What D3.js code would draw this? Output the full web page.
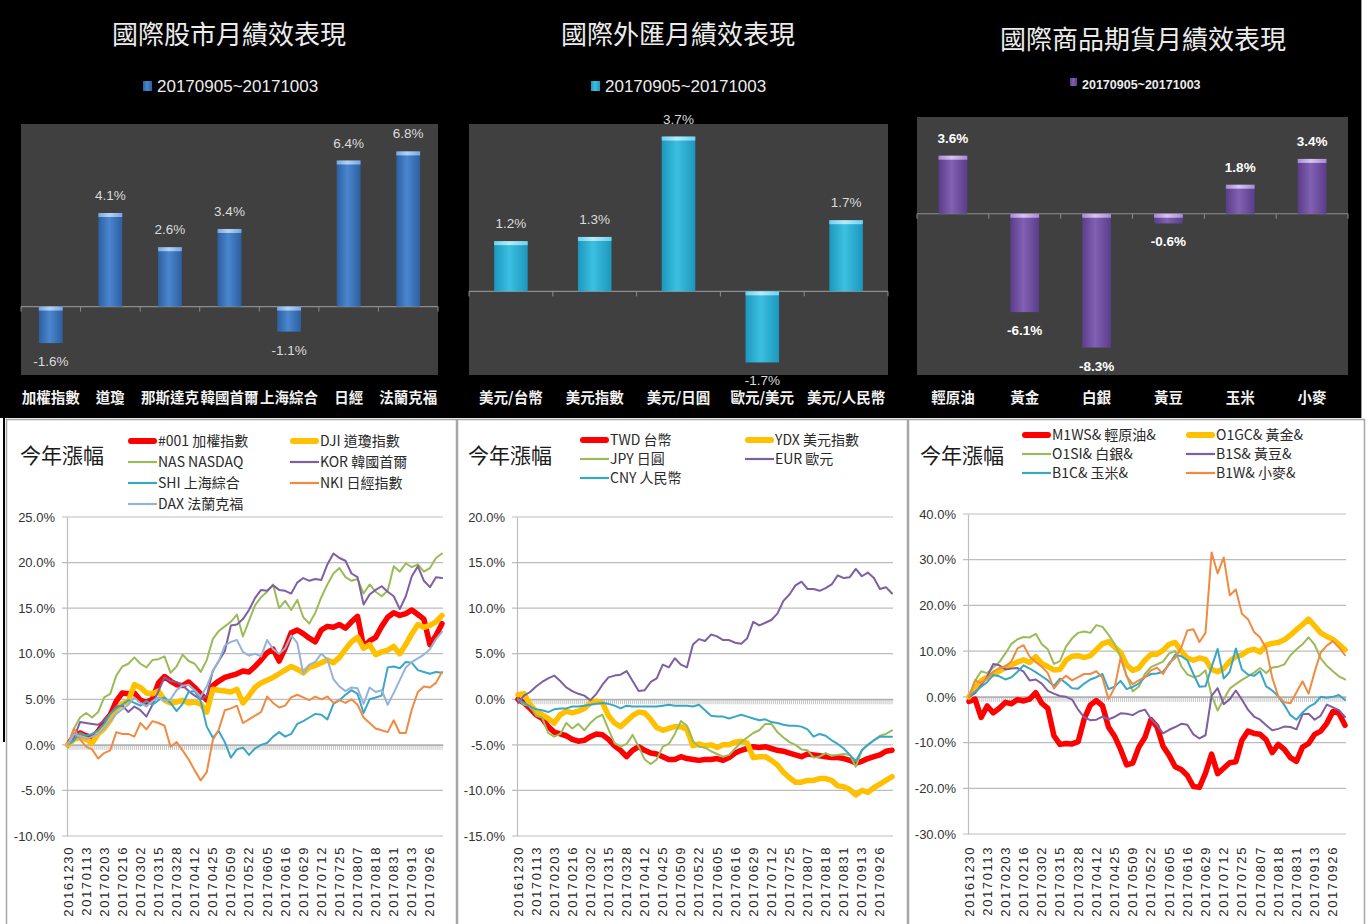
<!DOCTYPE html>
<html><head><meta charset="utf-8">
<script src="https://cdn.jsdelivr.net/npm/d3@7"></script>
<style>
html,body{margin:0;padding:0;background:#fff;}
svg{display:block;}
text{font-family:"Noto Sans CJK TC","Noto Sans",sans-serif;}
.num{font-family:"Liberation Sans Narrow","Liberation Sans",Arial,sans-serif;}
</style></head><body>
<svg id="c" width="1368" height="924"></svg>
<script>
// ---------------- DATA ----------------
const periodLabel = "20170905~20171003";
const stockCats = ["加權指數","道瓊","那斯達克","韓國首爾","上海綜合","日經","法蘭克福"];
const stockVals = [-1.6, 4.1, 2.6, 3.4, -1.1, 6.4, 6.8];
const fxCats = ["美元/台幣","美元指數","美元/日圓","歐元/美元","美元/人民幣"];
const fxVals = [1.2, 1.3, 3.7, -1.7, 1.7];
const cmdCats = ["輕原油","黃金","白銀","黃豆","玉米","小麥"];
const cmdVals = [3.6, -6.1, -8.3, -0.6, 1.8, 3.4];

const dateTicks = ["20161230","20170113","20170203","20170216","20170302","20170315","20170328","20170412","20170425","20170509","20170522","20170605","20170616","20170629","20170712","20170725","20170807","20170818","20170831","20170913","20170926"];
const nDays = 187;      // trading days on the category axis
const sampleStep = 3;   // values below are read every 3rd trading day

const stockTicks = [-10,-5,0,5,10,15,20,25];
const fxTicks = [-15,-10,-5,0,5,10,15,20];
const cmdTicks = [-30,-20,-10,0,10,20,30,40];

const stockNames = ["#001 加權指數","DJI 道瓊指數","NAS NASDAQ","KOR 韓國首爾","SHI 上海綜合","NKI 日經指數","DAX 法蘭克福"];
const taiex = [0.0,1.0,1.3,1.0,0.8,1.5,2.5,3.3,4.8,5.7,5.6,5.7,4.9,4.7,5.0,6.8,7.5,7.0,6.6,6.5,6.9,6.3,5.6,4.9,6.5,7.0,7.4,7.6,7.8,8.1,8.0,8.6,9.3,10.1,10.5,9.2,10.6,12.3,12.6,12.2,11.7,11.3,12.6,13.0,12.9,13.2,12.8,13.5,14.1,10.8,11.4,11.8,13.0,14.0,14.5,14.2,14.4,14.8,14.3,13.8,11.0,12.0,13.3];
const dji = [0.0,0.6,0.8,0.6,0.2,1.2,1.8,2.7,3.9,4.5,4.8,6.6,6.3,5.7,5.6,5.9,4.9,4.6,4.7,4.9,4.6,4.7,4.5,3.6,6.1,6.0,5.9,5.8,6.1,4.6,5.4,6.3,6.8,7.1,7.4,7.8,8.2,8.6,8.3,7.9,8.5,8.7,9.0,9.3,9.0,9.6,10.5,11.3,11.8,10.6,11.0,9.9,10.2,10.4,10.8,10.0,11.0,12.2,13.2,12.9,13.1,13.5,14.2];
const nas = [0.0,1.8,3.0,3.5,3.0,3.6,5.2,5.6,7.6,8.6,8.9,9.6,8.9,8.5,9.3,9.4,9.7,7.9,8.6,9.9,9.2,8.9,8.0,9.3,11.6,12.5,13.0,13.5,14.3,11.9,13.6,15.3,16.2,16.8,17.6,15.0,15.8,14.8,15.9,14.0,13.3,14.5,16.2,17.6,18.8,19.4,18.4,18.0,18.2,16.6,17.6,16.8,16.3,16.9,19.6,19.0,19.9,19.5,19.8,19.0,19.4,20.5,21.0];
const kor = [0.0,0.8,2.5,2.4,2.3,2.2,2.7,3.4,4.2,4.3,3.6,4.2,3.8,3.1,4.4,5.9,7.4,7.0,6.9,6.5,5.9,5.4,5.0,5.4,8.1,9.2,10.3,13.1,13.2,13.8,14.8,16.1,17.0,16.9,17.5,17.0,16.9,16.6,17.8,18.3,18.0,18.2,18.1,19.8,21.0,20.5,20.2,18.8,18.4,15.4,16.5,17.0,17.4,16.8,16.3,14.9,16.3,18.5,19.6,18.0,17.3,18.4,18.3];
const shi = [0.0,0.5,1.3,1.0,1.2,1.6,2.3,3.4,4.0,4.4,4.9,4.6,4.3,4.8,4.4,4.9,5.2,4.6,3.7,4.5,5.8,5.9,4.8,2.0,0.8,1.5,0.3,-1.4,-0.5,-0.3,-1.1,-0.4,0.0,0.2,0.9,1.4,0.9,1.2,2.3,2.6,3.0,3.4,3.3,2.8,4.5,4.9,5.5,6.0,5.6,3.5,5.0,5.2,5.4,8.5,8.6,8.4,9.1,9.0,8.2,8.0,7.8,8.0,7.9];
const nki = [0.0,1.8,0.6,-0.2,-0.5,-1.5,-0.9,-0.6,1.4,1.2,1.2,0.9,2.4,1.7,2.6,2.4,2.1,-0.2,0.3,-0.6,-1.6,-2.8,-3.9,-3.0,0.5,1.7,3.8,4.0,4.3,2.4,2.8,3.2,3.6,5.3,4.6,4.1,4.3,5.2,5.5,5.2,4.9,5.3,5.0,5.3,4.6,4.9,4.6,5.0,4.4,3.0,2.4,1.8,1.6,1.4,2.7,1.3,1.3,3.9,5.8,6.4,6.3,6.8,8.0];
const dax = [0.0,1.2,0.9,0.6,0.9,1.2,1.8,2.6,3.4,3.9,4.4,5.2,4.6,4.2,4.8,5.2,4.8,5.0,6.0,6.5,6.6,6.0,5.3,6.4,8.1,9.2,10.9,11.3,11.5,10.2,9.8,10.0,9.7,11.5,10.5,10.0,10.6,12.0,11.2,7.8,8.8,9.1,10.0,9.4,7.2,6.4,5.9,6.3,6.2,4.5,6.3,5.8,6.0,4.4,5.7,7.1,8.5,9.1,9.5,9.9,10.5,11.6,12.4];

const fxNames = ["TWD 台幣","YDX 美元指數","JPY 日圓","EUR 歐元","CNY 人民幣"];
const twd = [0.0,-0.4,-1.0,-1.7,-2.1,-3.0,-3.6,-3.8,-4.0,-4.4,-4.6,-4.5,-4.1,-3.8,-3.9,-4.4,-5.1,-5.6,-6.3,-5.6,-5.2,-5.6,-5.9,-6.0,-6.3,-6.6,-6.6,-6.3,-6.5,-6.6,-6.7,-6.6,-6.6,-6.5,-6.7,-6.4,-5.9,-5.6,-5.4,-5.2,-5.3,-5.2,-5.4,-5.6,-5.7,-5.9,-6.1,-6.3,-6.0,-6.1,-6.2,-6.3,-6.4,-6.4,-6.5,-6.7,-7.0,-6.8,-6.5,-6.3,-6.1,-5.7,-5.6];
const ydx = [0.5,0.6,-0.6,-1.3,-1.7,-2.1,-2.6,-1.7,-1.3,-1.5,-1.3,-1.0,-0.4,-0.2,-0.4,-1.8,-2.6,-3.0,-2.4,-1.8,-1.4,-1.5,-2.2,-3.1,-3.4,-3.2,-3.0,-3.0,-3.3,-5.1,-4.9,-5.1,-5.0,-5.3,-5.0,-5.0,-4.7,-4.6,-4.8,-6.4,-6.3,-6.3,-6.7,-7.2,-8.0,-8.6,-9.1,-9.1,-8.9,-8.9,-8.7,-8.7,-8.9,-9.5,-9.6,-9.9,-10.5,-10.0,-10.2,-9.7,-9.3,-8.9,-8.5];
const jpy = [0.0,-0.6,-0.7,-1.8,-2.0,-3.7,-4.1,-3.8,-2.6,-3.2,-2.7,-3.4,-2.6,-2.0,-1.7,-3.3,-4.8,-5.2,-4.9,-3.9,-5.2,-6.6,-7.1,-6.6,-5.2,-4.9,-3.8,-2.4,-2.9,-4.6,-5.2,-5.3,-5.7,-6.0,-6.3,-6.1,-5.4,-4.7,-4.2,-3.7,-3.4,-2.7,-2.7,-3.6,-4.2,-4.7,-5.0,-5.5,-5.6,-6.4,-6.3,-5.9,-6.2,-6.1,-6.0,-6.1,-7.4,-5.6,-5.0,-4.5,-4.0,-3.8,-3.4];
const eur = [-0.4,0.4,0.8,1.4,1.9,2.3,2.6,2.0,1.3,0.9,0.6,0.4,-0.1,0.6,1.6,2.4,2.6,2.7,3.1,2.0,0.9,1.0,1.9,2.3,3.8,3.5,4.5,3.8,3.5,6.0,6.6,6.4,7.1,6.9,6.5,6.5,6.2,6.1,6.7,8.5,8.1,8.4,8.7,9.4,10.8,11.5,12.5,12.9,12.1,12.1,11.9,12.2,12.6,13.6,13.3,13.4,14.3,13.5,13.9,13.3,12.1,12.3,11.6];
const cny = [0.0,-0.4,-0.8,-1.1,-1.2,-1.4,-1.1,-1.0,-1.0,-0.8,-0.8,-0.7,-0.6,-0.5,-0.4,-0.5,-0.7,-1.0,-0.7,-0.8,-0.8,-0.8,-0.8,-0.8,-0.7,-0.6,-0.7,-0.7,-0.7,-0.8,-0.6,-1.2,-1.8,-1.9,-1.9,-2.1,-1.9,-1.7,-1.9,-2.1,-2.3,-2.2,-2.5,-2.6,-2.8,-2.9,-2.9,-3.0,-3.3,-4.1,-3.8,-4.0,-4.5,-4.9,-5.4,-6.1,-6.8,-5.6,-5.0,-4.5,-4.1,-4.1,-4.1];

const cmdNames = ["M1WS& 輕原油&","O1GC& 黃金&","O1SI& 白銀&","B1S& 黃豆&","B1C& 玉米&","B1W& 小麥&"];
const crude = [-1.0,-0.5,-4.5,-2.0,-3.5,-2.5,-1.2,-1.5,-0.6,-0.9,-0.5,0.9,-1.4,-2.5,-8.5,-10.4,-10.2,-10.3,-9.8,-4.8,-1.8,-0.8,-1.9,-6.6,-8.6,-11.5,-14.9,-14.5,-11.0,-8.9,-5.0,-6.5,-10.8,-12.8,-15.3,-15.9,-17.2,-19.6,-19.8,-16.7,-12.5,-16.8,-15.6,-14.4,-14.2,-9.5,-7.5,-8.0,-8.2,-9.4,-12.2,-10.4,-11.5,-13.3,-14.1,-11.0,-10.2,-8.2,-7.5,-5.8,-3.2,-3.6,-6.2];
const gold = [0.0,2.0,3.5,4.3,5.0,5.6,6.4,7.0,7.6,8.1,7.5,8.8,7.3,6.6,5.9,6.0,8.0,8.9,9.0,8.6,9.0,10.3,11.6,12.1,10.9,9.7,7.0,5.8,6.3,8.0,9.3,9.3,10.2,11.5,11.9,10.0,8.5,8.0,8.5,8.2,6.0,5.5,6.2,7.8,8.8,9.2,10.1,10.4,9.8,11.3,11.7,11.9,12.5,13.5,14.7,15.8,17.0,15.5,14.0,13.2,12.6,11.5,10.3];
const silver = [0.0,3.5,5.6,5.2,6.4,7.6,9.5,11.6,12.6,13.1,13.0,13.8,11.5,10.4,7.2,7.8,11.0,12.8,14.0,14.3,14.0,15.7,15.3,13.6,11.6,8.7,4.6,1.2,2.2,5.0,6.5,7.1,7.7,9.5,10.0,6.7,4.9,4.3,4.6,5.8,0.3,-3.0,-0.5,1.8,2.8,3.7,4.5,5.3,6.3,5.2,6.4,6.6,7.1,9.1,10.4,11.5,13.0,11.4,8.4,6.8,5.6,4.5,3.8];
const soybean = [0.0,0.8,2.5,4.4,7.2,6.9,6.0,6.2,6.3,5.5,3.6,3.8,2.9,1.3,0.7,0.2,0.0,-0.6,-2.8,-4.5,-5.1,-5.0,-4.3,-4.9,-4.4,-3.6,-3.7,-4.0,-3.2,-2.8,-4.8,-6.2,-8.0,-7.2,-6.6,-5.9,-6.1,-8.2,-9.1,-8.4,0.2,1.9,-1.6,-0.5,1.4,-0.6,-2.8,-4.3,-5.0,-6.2,-7.3,-7.0,-6.5,-6.6,-7.1,-3.8,-3.7,-5.0,-4.1,-1.7,-2.3,-2.9,-4.4];
const corn = [0.0,1.1,2.2,3.2,4.8,4.5,3.8,4.3,5.5,6.9,6.2,5.4,4.5,3.6,2.4,4.0,3.0,1.9,1.8,2.9,3.8,4.3,5.0,1.7,2.2,3.5,1.7,2.2,2.9,4.3,5.0,5.1,5.5,7.1,9.2,8.9,8.0,5.0,2.2,2.3,6.5,10.5,4.0,5.5,10.6,6.0,4.9,4.6,5.6,2.3,1.4,0.1,-1.8,-4.0,-5.0,-3.4,-2.2,-1.5,0.0,-0.2,0.0,0.4,-0.7];
const wheat = [0.0,3.6,3.0,4.1,5.5,6.3,6.6,7.8,10.6,11.3,8.8,7.6,6.6,5.2,1.8,3.5,4.6,3.6,4.3,5.0,5.0,5.6,4.2,-0.5,2.0,8.5,4.5,2.8,3.6,4.3,5.8,6.4,5.0,7.4,8.5,10.8,14.5,14.8,12.0,14.0,31.6,27.0,30.5,22.2,23.5,18.2,17.0,14.2,13.0,10.6,4.2,0.1,-1.2,-1.4,1.0,3.4,0.7,5.5,9.7,11.2,12.2,10.8,9.1];

// ---------------- DRAW ----------------
const svg = d3.select("#c");
const defs = svg.append("defs");
function hGrad(id, edge, mid){
  const g = defs.append("linearGradient").attr("id",id).attr("x1",0).attr("x2",1).attr("y1",0).attr("y2",0);
  g.append("stop").attr("offset","0%").attr("stop-color",edge);
  g.append("stop").attr("offset","45%").attr("stop-color",mid);
  g.append("stop").attr("offset","100%").attr("stop-color",edge);
}
hGrad("gBlue","#2d5f9f","#4a86cf"); hGrad("gBlueTop","#7aa6dc","#b5d2f5");
hGrad("gCyan","#1c97bd","#3cc0e2"); hGrad("gCyanTop","#72d0ea","#b6ecfb");
hGrad("gPurp","#5b3d8a","#8260b3"); hGrad("gPurpTop","#a58bcf","#d6c4f1");

svg.append("rect").attr("x",0).attr("y",0).attr("width",1361).attr("height",418).attr("fill","#000");
svg.append("line").attr("x1",1361.5).attr("x2",1361.5).attr("y1",0).attr("y2",418).attr("stroke","#9a9a9a");

const fmt1 = v => v.toFixed(1);

function barPanel(c){
  const g = svg.append("g");
  g.append("text").attr("x",c.titleX).attr("y",c.titleY).attr("text-anchor","middle")
    .attr("font-size",26).attr("fill","#ececec").text(c.title);
  g.append("rect").attr("x",c.legX).attr("y",c.legY-5).attr("width",c.legSq).attr("height",c.legSq+1).attr("fill","url(#"+c.grad+")");
  g.append("text").attr("class","num").attr("x",c.legX+c.legSq+5).attr("y",c.legY+6)
    .attr("font-size",c.legFont).attr("font-weight",c.bold?"bold":"normal").attr("fill","#ececec").text(periodLabel);
  g.append("rect").attr("x",c.x0).attr("y",c.y0).attr("width",c.x1-c.x0).attr("height",c.y1-c.y0).attr("fill","#404040");
  const x = d3.scaleBand().domain(c.cats).range([c.x0,c.x1]);
  const y = d3.scaleLinear().domain(c.domain).range([c.y1,c.y0]);
  const z = y(0);
  g.append("line").attr("x1",c.x0).attr("x2",c.x1).attr("y1",z).attr("y2",z).attr("stroke","#8c8c8c").attr("stroke-width",1.2);
  c.cats.forEach((k,i)=>{ const bx = x(k); g.append("line").attr("x1",bx).attr("x2",bx).attr("y1",z).attr("y2",z+5).attr("stroke","#8c8c8c"); });
  g.append("line").attr("x1",c.x1).attr("x2",c.x1).attr("y1",z).attr("y2",z+5).attr("stroke","#8c8c8c");
  const bw = x.bandwidth()*0.4;
  c.vals.forEach((v,i)=>{
    const cx = x(c.cats[i]) + x.bandwidth()/2;
    const top = y(Math.max(0,v)), bot = y(Math.min(0,v));
    g.append("rect").attr("x",cx-bw/2).attr("y",top).attr("width",bw).attr("height",bot-top).attr("fill","url(#"+c.grad+")");
    g.append("rect").attr("x",cx-bw/2).attr("y",top).attr("width",bw).attr("height",Math.min(4,bot-top)).attr("fill","url(#"+c.grad+"Top)");
    g.append("text").attr("class","num").attr("x",cx).attr("y",(v>=0? top-18 : bot+18)+5)
      .attr("text-anchor","middle").attr("font-size",13.5).attr("font-weight",c.bold?"bold":"normal")
      .attr("fill",c.bold?"#ffffff":"#dcdcdc").text(fmt1(v)+"%");
    g.append("text").attr("x",cx).attr("y",403).attr("text-anchor","middle").attr("font-size",14.5)
      .attr("font-weight","bold").attr("fill","#f2f2f2").text(c.cats[i]);
  });
}

barPanel({title:"國際股市月績效表現",titleX:229,titleY:44,legX:143,legY:86,legSq:9,legFont:17,bold:false,
  x0:21,x1:438,y0:124,y1:375,domain:[-3,8],cats:stockCats,vals:stockVals,grad:"gBlue"});
barPanel({title:"國際外匯月績效表現",titleX:678,titleY:44,legX:591,legY:86,legSq:9,legFont:17,bold:false,
  x0:469,x1:888,y0:124,y1:375,domain:[-2,4],cats:fxCats,vals:fxVals,grad:"gCyan"});
barPanel({title:"國際商品期貨月績效表現",titleX:1143,titleY:49,legX:1070,legY:83,legSq:7,legFont:12.5,bold:true,
  x0:917,x1:1348,y0:117,y1:375,domain:[-10,6],cats:cmdCats,vals:cmdVals,grad:"gPurp"});

// ---- bottom line charts ----
const sampleIdx = d3.range(0, nDays, sampleStep);
function linePanel(c){
  const g = svg.append("g");
  g.append("rect").attr("x",c.px).attr("y",419.5).attr("width",c.pw).attr("height",520).attr("fill","#fff").attr("stroke","#a6a6a6").attr("stroke-width",1.5);
  g.append("text").attr("x",c.titleX).attr("y",463).attr("font-size",21).attr("fill","#1a1a1a").text("今年漲幅");
  const x = d3.scaleBand().domain(d3.range(nDays)).range([c.x0,c.x1]);
  const xc = i => x(i) + x.bandwidth()/2;
  const y = d3.scaleLinear().domain(c.domain).range([c.yB,c.yT]);
  g.selectAll(".gl").data(c.ticks).enter().append("line")
    .attr("x1",c.x0-5).attr("x2",c.x1).attr("y1",d=>y(d)).attr("y2",d=>y(d))
    .attr("stroke","#bdbdbd").attr("stroke-width",1.2);
  const ya = g.append("g").attr("transform","translate("+c.x0+",0)")
    .call(d3.axisLeft(y).tickValues(c.ticks).tickSize(0).tickSizeOuter(0).tickPadding(12).tickFormat(d=>fmt1(d)+"%"));
  ya.select(".domain").attr("stroke","#bdbdbd").attr("stroke-width",1.2);
  ya.selectAll("text").attr("class","num").attr("font-size",13).attr("fill","#333");
  const xa = g.append("g").attr("transform","translate(0,"+y(0)+")")
    .call(d3.axisBottom(x).tickValues(d3.range(nDays)).tickSize(5).tickSizeOuter(0).tickFormat(""));
  xa.select(".domain").attr("stroke","#a8a8a8");
  xa.selectAll(".tick line").attr("stroke","#b4b4b4").attr("stroke-width",0.8);
  g.selectAll(".dl").data(dateTicks).enter().append("text").attr("class","num")
    .attr("transform",(d,k)=>"translate("+xc(k*9)+",846) rotate(-90)")
    .attr("text-anchor","end").attr("dominant-baseline","central")
    .attr("font-size",13).attr("letter-spacing",1.6).attr("fill","#262626").text(d=>d);
  const line = d3.line().x((d,i)=>xc(sampleIdx[i])).y(d=>y(d));
  c.series.forEach(s=>{
    g.append("path").attr("d",line(s.values)).attr("fill","none").attr("stroke",s.color)
      .attr("stroke-width",s.w).attr("stroke-linejoin","round").attr("stroke-linecap","round");
  });
  c.series.forEach((s,i)=>{
    const col = i%2, row = Math.floor(i/2);
    const lx = c.legCols[col], ly = c.legY + row*c.legStep;
    g.append("line").attr("x1",lx+(s.w>3?3:0)).attr("x2",lx+29-(s.w>3?3:0)).attr("y1",ly).attr("y2",ly)
      .attr("stroke",s.color).attr("stroke-width",s.w>3?6:2.2).attr("stroke-linecap",s.w>3?"round":"butt");
    g.append("text").attr("x",lx+30).attr("y",ly+5).attr("font-size",14).attr("fill","#2a2a2a").text(s.name);
  });
}

const C = {red:"#ff0000",yel:"#ffc000",grn:"#9bbb59",pur:"#7e5fa4",teal:"#3aa6c6",org:"#ef8b42",lb:"#95b3d7"};
const W1 = 5.5, W0 = 2;

linePanel({px:6.5,pw:450,titleX:20,x0:67,x1:443,yT:517,yB:836,domain:[-10,25],ticks:stockTicks,
  legCols:[128,290],legY:441,legStep:21,
  series:[
    {name:stockNames[0],values:taiex,color:C.red,w:W1},
    {name:stockNames[1],values:dji,color:C.yel,w:W1},
    {name:stockNames[2],values:nas,color:C.grn,w:W0},
    {name:stockNames[3],values:kor,color:C.pur,w:W0},
    {name:stockNames[4],values:shi,color:C.teal,w:W0},
    {name:stockNames[5],values:nki,color:C.org,w:W0},
    {name:stockNames[6],values:dax,color:C.lb,w:W0}]});
linePanel({px:457.5,pw:450,titleX:468,x0:517,x1:893,yT:517,yB:836,domain:[-15,20],ticks:fxTicks,
  legCols:[580,745],legY:440,legStep:19,
  series:[
    {name:fxNames[0],values:twd,color:C.red,w:W1},
    {name:fxNames[1],values:ydx,color:C.yel,w:W1},
    {name:fxNames[2],values:jpy,color:C.grn,w:W0},
    {name:fxNames[3],values:eur,color:C.pur,w:W0},
    {name:fxNames[4],values:cny,color:C.teal,w:W0}]});
linePanel({px:908.5,pw:456,titleX:920,x0:968,x1:1346,yT:514,yB:834,domain:[-30,40],ticks:cmdTicks,
  legCols:[1022,1186],legY:435,legStep:19,
  series:[
    {name:cmdNames[0],values:crude,color:C.red,w:W1},
    {name:cmdNames[1],values:gold,color:C.yel,w:W1},
    {name:cmdNames[2],values:silver,color:C.grn,w:W0},
    {name:cmdNames[3],values:soybean,color:C.pur,w:W0},
    {name:cmdNames[4],values:corn,color:C.teal,w:W0},
    {name:cmdNames[5],values:wheat,color:C.org,w:W0}]});

svg.append("line").attr("x1",4).attr("x2",4).attr("y1",418).attr("y2",742).attr("stroke","#000").attr("stroke-width",2);
</script>
</body></html>
